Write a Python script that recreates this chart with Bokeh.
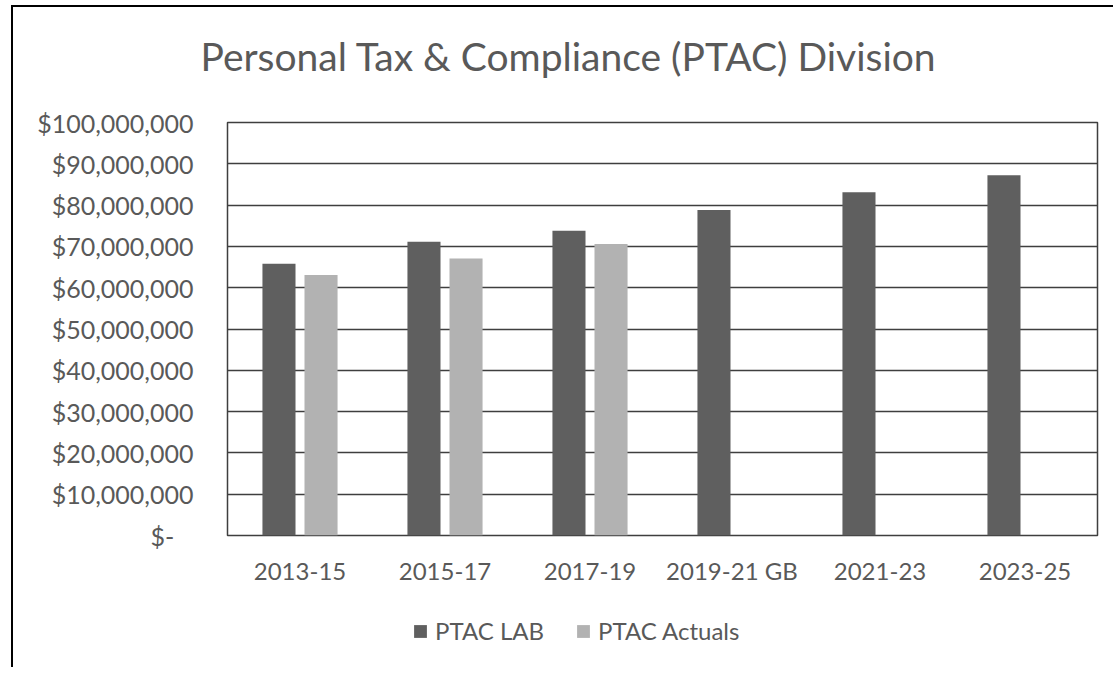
from bokeh.plotting import figure
from bokeh.models import (FactorRange, Range1d, FixedTicker, CustomJSTickFormatter,
                          Legend, ColumnDataSource)
from bokeh.layouts import column
from bokeh.transform import dodge
from bokeh.embed import file_html
from bokeh.resources import INLINE

# ---- data ----
categories = ["2013-15", "2015-17", "2017-19", "2019-21  GB", "2021-23", "2023-25"]
lab_values = [65.8e6, 71.1e6, 73.8e6, 78.8e6, 83.1e6, 87.2e6]
actual_categories = ["2013-15", "2015-17", "2017-19"]
actual_values = [63.1e6, 67.1e6, 70.6e6]
y_ticks = [0, 10e6, 20e6, 30e6, 40e6, 50e6, 60e6, 70e6, 80e6, 90e6, 100e6]
title_text = "Personal Tax & Compliance (PTAC) Division"
series_names = ["PTAC LAB", "PTAC Actuals"]
series_colors = ["#5f5f5f", "#b2b2b2"]

TEXT = "#595959"
FONT = "Lato"
W = 1100

src_lab = ColumnDataSource(dict(cat=categories, val=lab_values))
src_act = ColumnDataSource(dict(cat=actual_categories, val=actual_values))
x_range = FactorRange(*categories)

# ---- title strip ----
p_title = figure(width=W, height=100, x_range=x_range, y_range=Range1d(0, 1),
                 x_axis_type=None, y_axis_type=None, min_border=0,
                 output_backend="svg", toolbar_location=None)
p_title.outline_line_color = None
p_title.title.text = title_text
p_title.title.align = "left"
p_title.title.offset = -27
p_title.title.vertical_align = "top"
p_title.title.standoff = 51
p_title.title.text_font = FONT
p_title.title.text_font_size = "39px"
p_title.title.text_font_style = "normal"
p_title.title.text_color = TEXT

# ---- main chart ----
p = figure(x_range=x_range, y_range=Range1d(0, 100e6),
           frame_width=870, frame_height=413,
           min_border_left=214, min_border_right=16,
           min_border_top=15, min_border_bottom=60,
           output_backend="svg", toolbar_location=None)

p.vbar(x=dodge("cat", -0.145, range=x_range), top="val", width=0.228,
       source=src_lab, fill_color=series_colors[0], line_color=None)
p.vbar(x=dodge("cat", 0.145, range=x_range), top="val", width=0.228,
       source=src_act, fill_color=series_colors[1], line_color=None)

p.xgrid.visible = False
p.ygrid.ticker = FixedTicker(ticks=y_ticks)
p.ygrid.grid_line_color = "#3f3f3f"
p.ygrid.grid_line_width = 1.5
p.outline_line_color = "#3f3f3f"
p.outline_line_width = 1.5

p.yaxis.ticker = FixedTicker(ticks=y_ticks)
p.yaxis.formatter = CustomJSTickFormatter(
    code="if (tick == 0) { return '$-\\u00a0\\u00a0\\u00a0'; } return '$' + Math.round(tick).toLocaleString('en-US');")
for ax in (p.xaxis[0], p.yaxis[0]):
    ax.axis_line_color = None
    ax.major_tick_line_color = None
    ax.minor_tick_line_color = None
    ax.major_label_text_font = FONT
    ax.major_label_text_color = TEXT
p.yaxis.major_label_text_font_size = "25px"
p.xaxis.major_label_text_font_size = "24px"
p.yaxis.major_label_standoff = 28
p.xaxis.major_label_standoff = 14

# ---- legend strip (same series as hidden renderers, for the legend keys) ----
p_leg = figure(width=W, height=72, x_range=x_range, y_range=Range1d(0, 100e6),
               x_axis_type=None, y_axis_type=None, min_border=0,
               output_backend="svg", toolbar_location=None)
p_leg.outline_line_color = None
k1 = p_leg.vbar(x="cat", top="val", width=0.228, source=src_lab,
                fill_color=series_colors[0], line_color=None, visible=False)
k2 = p_leg.vbar(x="cat", top="val", width=0.228, source=src_act,
                fill_color=series_colors[1], line_color=None, visible=False)
legend = Legend(items=[(series_names[0], [k1]), (series_names[1], [k2])],
                orientation="horizontal", location=(185, 22),
                glyph_width=16, glyph_height=16, label_standoff=7, spacing=31,
                padding=0, margin=0, border_line_color=None, background_fill_alpha=0,
                inactive_fill_alpha=0,
                label_text_font=FONT, label_text_font_size="24px",
                label_text_color=TEXT)
p_leg.add_layout(legend, "center")

layout = column(p_title, p, p_leg, spacing=0)
layout.styles = {"margin-top": "5px", "margin-left": "11px",
                 "border-left": "2px solid black", "border-top": "2px solid black"}

open("out.html", "w").write(file_html(layout, INLINE))
